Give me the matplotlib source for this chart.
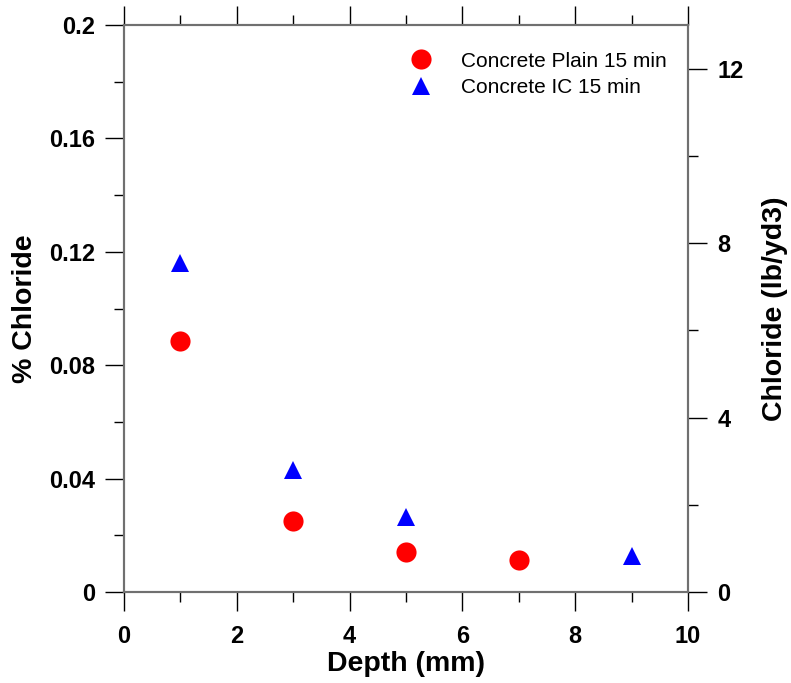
import numpy as np
import matplotlib
matplotlib.use("Agg")
from matplotlib import pyplot as plt
from matplotlib.ticker import MultipleLocator

plt.rcParams['font.family'] = ['Liberation Sans', 'DejaVu Sans']

# data
depth_plain = [1, 3, 5, 7]
cl_plain = [0.0885, 0.0252, 0.0140, 0.0112]
depth_ic = [1, 3, 5, 9]
cl_ic = [0.1159, 0.0431, 0.0263, 0.0128]

fig = plt.figure(figsize=(7.91, 6.83), dpi=100)
ax = fig.add_axes([124/791, 1-592/683, (688-124)/791, (592-25)/683])

ax.plot(depth_plain, cl_plain, "o", color="#ff0000", markersize=14.5,
        markeredgewidth=0, label="Concrete Plain 15 min")
ax.plot(depth_ic, cl_ic, "^", color="#0000ff", markersize=12.5,
        markeredgewidth=0, label="Concrete IC 15 min")

ax.set_xlim(0, 10)
ax.set_ylim(0, 0.2)
ax.xaxis.set_major_locator(MultipleLocator(2))
ax.xaxis.set_minor_locator(MultipleLocator(1))
ax.yaxis.set_minor_locator(MultipleLocator(0.02))
ax.set_yticks([0, 0.04, 0.08, 0.12, 0.16, 0.2])
ax.set_yticklabels(["0", "0.04", "0.08", "0.12", "0.16", "0.2"])

ax2 = ax.twinx()
ax2.set_ylim(0, 13)
ax2.yaxis.set_major_locator(MultipleLocator(4))
ax2.yaxis.set_minor_locator(MultipleLocator(2))

for a in (ax, ax2):
    for s in a.spines.values():
        s.set_color("#707070")
        s.set_linewidth(1.5)
    a.tick_params(which="major", direction="out", length=14, width=1,
                  color="black", labelsize=17, pad=7)
    a.tick_params(which="minor", direction="out", length=7, width=1,
                  color="black")
ax.tick_params(axis="x", which="both", top=True, labeltop=False)
ax.tick_params(axis="x", which="major", pad=10)
for lab in ax.get_xticklabels() + ax.get_yticklabels() + ax2.get_yticklabels():
    lab.set_fontweight("bold")

ax.set_xlabel("Depth (mm)", fontsize=20.5, fontweight="bold", labelpad=2)
ax.set_ylabel("% Chloride", fontsize=20.5, fontweight="bold", labelpad=8)
ax2.set_ylabel("Chloride (lb/yd3)", fontsize=20.5, fontweight="bold", labelpad=13)

ax.legend(loc="upper right", bbox_to_anchor=(1.0, 0.99), frameon=False,
          fontsize=15, handletextpad=1.2, labelspacing=0.35,
          borderaxespad=0.6, handlelength=1.5)

plt.savefig("out.png", dpi=100)
